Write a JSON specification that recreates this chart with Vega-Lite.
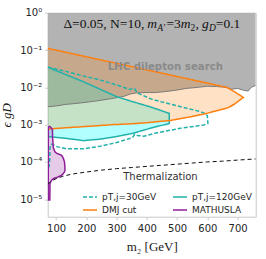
{
  "$schema": "https://vega.github.io/schema/vega-lite/v6.json",
  "width": 208,
  "height": 204,
  "autosize": "none",
  "padding": {"left": 47.7, "top": 12.7, "right": 10.3, "bottom": 42.3},
  "background": "white",
  "config": {
    "view": {"stroke": "#c8c8c8", "strokeWidth": 1},
    "axis": {
      "labelFont": "DejaVu Sans", "labelFontSize": 10, "labelColor": "#262626",
      "titleFont": "Liberation Serif", "titleFontSize": 13, "titleFontWeight": "normal", "titleColor": "#1a1a1a",
      "domain": false, "tickColor": "#c8c8c8", "gridColor": "#ffffff", "gridWidth": 0.8, "labelOverlap": false
    },
    "legend": {
      "orient": "none", "legendX": 34.3, "legendY": 176.3, "columns": 2, "columnPadding": 13, "rowPadding": 0,
      "symbolSize": 196, "symbolStrokeWidth": 1.5, "labelFont": "DejaVu Sans", "labelFontSize": 9,
      "labelColor": "#262626", "labelOffset": 4
    }
  },
  "datasets": {
    "lhc": [
      {"m": 72, "y": 3.02e-3}, {"m": 100, "y": 3.16e-3}, {"m": 130, "y": 3.47e-3}, {"m": 180, "y": 3.80e-3},
      {"m": 230, "y": 4.27e-3}, {"m": 285, "y": 5.01e-3}, {"m": 325, "y": 5.75e-3}, {"m": 345, "y": 6.61e-3},
      {"m": 365, "y": 7.08e-3}, {"m": 400, "y": 7.24e-3}, {"m": 430, "y": 7.24e-3}, {"m": 465, "y": 7.76e-3},
      {"m": 495, "y": 8.32e-3}, {"m": 530, "y": 9.33e-3}, {"m": 570, "y": 1.0e-2}, {"m": 600, "y": 1.07e-2},
      {"m": 630, "y": 1.047e-2}, {"m": 660, "y": 1.0e-2}, {"m": 680, "y": 8.91e-3}, {"m": 700, "y": 9.33e-3},
      {"m": 720, "y": 8.32e-3}, {"m": 735, "y": 7.94e-3}, {"m": 745, "y": 1.0e-2}, {"m": 760, "y": 1.12e-2}
    ],
    "dmj": [
      {"m": 72, "y": 0.1109, "y2": 7.59e-4}, {"m": 124, "y": 0.0897, "y2": 8.13e-4}, {"m": 180, "y": 0.0714, "y2": 8.71e-4},
      {"m": 235, "y": 0.0571, "y2": 9.33e-4}, {"m": 290, "y": 0.0457, "y2": 1.0e-3}, {"m": 345, "y": 0.0366, "y2": 1.047e-3},
      {"m": 400, "y": 0.0292, "y2": 1.122e-3}, {"m": 435, "y": 0.0254, "y2": 1.202e-3}, {"m": 477, "y": 0.0214, "y2": 1.288e-3},
      {"m": 510, "y": 0.0187, "y2": 1.445e-3}, {"m": 545, "y": 0.0162, "y2": 1.622e-3}, {"m": 598, "y": 0.0131, "y2": 1.995e-3},
      {"m": 635, "y": 0.01125, "y2": 2.399e-3}, {"m": 664, "y": 0.0100, "y2": 2.754e-3}, {"m": 675, "y": 8.91e-3, "y2": 3.02e-3},
      {"m": 690, "y": 7.59e-3, "y2": 3.548e-3}, {"m": 719, "y": 5.37e-3, "y2": 5.37e-3}
    ],
    "pt120": [
      {"m": 72, "y": 0.0347, "y2": 4.79e-4}, {"m": 135, "y": 0.0214, "y2": 4.27e-4}, {"m": 190, "y": 0.0141, "y2": 3.72e-4},
      {"m": 245, "y": 8.91e-3, "y2": 4.07e-4}, {"m": 300, "y": 5.62e-3, "y2": 4.79e-4}, {"m": 355, "y": 4.07e-3, "y2": 5.89e-4},
      {"m": 410, "y": 3.02e-3, "y2": 7.94e-4}, {"m": 474, "y": 2.0e-3, "y2": 1.07e-3}
    ],
    "mathusla": [
      {"m": 74, "y": 8.91e-4, "y2": 9.55e-6}, {"m": 79, "y": 8.91e-4, "y2": 9.55e-6}, {"m": 79.6, "y": 8.71e-4, "y2": 2.69e-5},
      {"m": 85, "y": 7.94e-4, "y2": 3.24e-5}, {"m": 87.5, "y": 7.41e-4, "y2": 3.39e-5}, {"m": 88.5, "y": 4.27e-4, "y2": 3.47e-5},
      {"m": 90.5, "y": 2.40e-4, "y2": 3.55e-5}, {"m": 96, "y": 1.86e-4, "y2": 3.72e-5}, {"m": 102, "y": 1.70e-4, "y2": 3.80e-5},
      {"m": 112, "y": 1.58e-4, "y2": 4.17e-5}, {"m": 118, "y": 1.51e-4, "y2": 4.37e-5}, {"m": 123.6, "y": 1.26e-4, "y2": 4.90e-5},
      {"m": 127.5, "y": 1.0e-4, "y2": 5.37e-5}, {"m": 129, "y": 7.08e-5, "y2": 6.03e-5}
    ],
    "outlines": [
      {"s": "pT,j=30GeV", "i": 1, "m": 72, "y": 0.0347}, {"s": "pT,j=30GeV", "i": 2, "m": 135, "y": 0.0263},
      {"s": "pT,j=30GeV", "i": 3, "m": 190, "y": 0.0200}, {"s": "pT,j=30GeV", "i": 4, "m": 245, "y": 0.0158},
      {"s": "pT,j=30GeV", "i": 5, "m": 300, "y": 0.0115}, {"s": "pT,j=30GeV", "i": 6, "m": 345, "y": 8.71e-3},
      {"s": "pT,j=30GeV", "i": 7, "m": 352, "y": 9.33e-3}, {"s": "pT,j=30GeV", "i": 8, "m": 360, "y": 9.12e-3},
      {"s": "pT,j=30GeV", "i": 9, "m": 368, "y": 7.08e-3}, {"s": "pT,j=30GeV", "i": 10, "m": 410, "y": 5.01e-3},
      {"s": "pT,j=30GeV", "i": 11, "m": 443, "y": 4.17e-3}, {"s": "pT,j=30GeV", "i": 12, "m": 487, "y": 3.39e-3},
      {"s": "pT,j=30GeV", "i": 13, "m": 532, "y": 2.75e-3}, {"s": "pT,j=30GeV", "i": 14, "m": 576, "y": 2.24e-3},
      {"s": "pT,j=30GeV", "i": 15, "m": 592, "y": 2.0e-3}, {"s": "pT,j=30GeV", "i": 16, "m": 600, "y": 1.74e-3},
      {"s": "pT,j=30GeV", "i": 17, "m": 602, "y": 1.07e-3}, {"s": "pT,j=30GeV", "i": 18, "m": 588, "y": 9.77e-4},
      {"s": "pT,j=30GeV", "i": 19, "m": 510, "y": 7.94e-4}, {"s": "pT,j=30GeV", "i": 20, "m": 433, "y": 6.03e-4},
      {"s": "pT,j=30GeV", "i": 21, "m": 390, "y": 4.90e-4}, {"s": "pT,j=30GeV", "i": 22, "m": 368, "y": 5.13e-4},
      {"s": "pT,j=30GeV", "i": 23, "m": 360, "y": 5.50e-4}, {"s": "pT,j=30GeV", "i": 24, "m": 352, "y": 4.47e-4},
      {"s": "pT,j=30GeV", "i": 25, "m": 300, "y": 3.31e-4}, {"s": "pT,j=30GeV", "i": 26, "m": 245, "y": 2.63e-4},
      {"s": "pT,j=30GeV", "i": 27, "m": 190, "y": 2.24e-4}, {"s": "pT,j=30GeV", "i": 28, "m": 135, "y": 2.24e-4},
      {"s": "pT,j=30GeV", "i": 29, "m": 102, "y": 2.57e-4}, {"s": "pT,j=30GeV", "i": 30, "m": 86, "y": 3.02e-4},
      {"s": "pT,j=30GeV", "i": 31, "m": 80, "y": 2.82e-4}, {"s": "pT,j=30GeV", "i": 32, "m": 79, "y": 1.26e-4},
      {"s": "pT,j=30GeV", "i": 33, "m": 77, "y": 7.59e-5}, {"s": "pT,j=30GeV", "i": 34, "m": 74, "y": 7.59e-5},

      {"s": "pT,j=120GeV", "i": 1, "m": 72, "y": 0.0347}, {"s": "pT,j=120GeV", "i": 2, "m": 135, "y": 0.0214},
      {"s": "pT,j=120GeV", "i": 3, "m": 190, "y": 0.0141}, {"s": "pT,j=120GeV", "i": 4, "m": 245, "y": 8.91e-3},
      {"s": "pT,j=120GeV", "i": 5, "m": 300, "y": 5.62e-3}, {"s": "pT,j=120GeV", "i": 6, "m": 355, "y": 4.07e-3},
      {"s": "pT,j=120GeV", "i": 7, "m": 410, "y": 3.02e-3}, {"s": "pT,j=120GeV", "i": 8, "m": 474, "y": 2.0e-3},
      {"s": "pT,j=120GeV", "i": 9, "m": 474, "y": 1.07e-3}, {"s": "pT,j=120GeV", "i": 10, "m": 410, "y": 7.94e-4},
      {"s": "pT,j=120GeV", "i": 11, "m": 355, "y": 5.89e-4}, {"s": "pT,j=120GeV", "i": 12, "m": 300, "y": 4.79e-4},
      {"s": "pT,j=120GeV", "i": 13, "m": 245, "y": 4.07e-4}, {"s": "pT,j=120GeV", "i": 14, "m": 190, "y": 3.72e-4},
      {"s": "pT,j=120GeV", "i": 15, "m": 135, "y": 4.27e-4}, {"s": "pT,j=120GeV", "i": 16, "m": 72, "y": 4.79e-4},

      {"s": "DMJ cut", "i": 1, "m": 72, "y": 0.1109}, {"s": "DMJ cut", "i": 2, "m": 124, "y": 0.0897},
      {"s": "DMJ cut", "i": 3, "m": 180, "y": 0.0714}, {"s": "DMJ cut", "i": 4, "m": 235, "y": 0.0571},
      {"s": "DMJ cut", "i": 5, "m": 290, "y": 0.0457}, {"s": "DMJ cut", "i": 6, "m": 345, "y": 0.0366},
      {"s": "DMJ cut", "i": 7, "m": 400, "y": 0.0292}, {"s": "DMJ cut", "i": 8, "m": 435, "y": 0.0254},
      {"s": "DMJ cut", "i": 9, "m": 477, "y": 0.0214}, {"s": "DMJ cut", "i": 10, "m": 510, "y": 0.0187},
      {"s": "DMJ cut", "i": 11, "m": 545, "y": 0.0162}, {"s": "DMJ cut", "i": 12, "m": 598, "y": 0.0131},
      {"s": "DMJ cut", "i": 13, "m": 635, "y": 0.01125}, {"s": "DMJ cut", "i": 14, "m": 664, "y": 0.0100},
      {"s": "DMJ cut", "i": 15, "m": 675, "y": 8.91e-3}, {"s": "DMJ cut", "i": 16, "m": 690, "y": 7.59e-3},
      {"s": "DMJ cut", "i": 17, "m": 719, "y": 5.37e-3}, {"s": "DMJ cut", "i": 18, "m": 690, "y": 3.548e-3},
      {"s": "DMJ cut", "i": 19, "m": 675, "y": 3.02e-3}, {"s": "DMJ cut", "i": 20, "m": 664, "y": 2.754e-3},
      {"s": "DMJ cut", "i": 21, "m": 635, "y": 2.399e-3}, {"s": "DMJ cut", "i": 22, "m": 598, "y": 1.995e-3},
      {"s": "DMJ cut", "i": 23, "m": 545, "y": 1.622e-3}, {"s": "DMJ cut", "i": 24, "m": 510, "y": 1.445e-3},
      {"s": "DMJ cut", "i": 25, "m": 477, "y": 1.288e-3}, {"s": "DMJ cut", "i": 26, "m": 435, "y": 1.202e-3},
      {"s": "DMJ cut", "i": 27, "m": 400, "y": 1.122e-3}, {"s": "DMJ cut", "i": 28, "m": 345, "y": 1.047e-3},
      {"s": "DMJ cut", "i": 29, "m": 290, "y": 1.0e-3}, {"s": "DMJ cut", "i": 30, "m": 235, "y": 9.33e-4},
      {"s": "DMJ cut", "i": 31, "m": 180, "y": 8.71e-4}, {"s": "DMJ cut", "i": 32, "m": 124, "y": 8.13e-4},
      {"s": "DMJ cut", "i": 33, "m": 72, "y": 7.59e-4},

      {"s": "MATHUSLA", "i": 1, "m": 74, "y": 8.91e-4}, {"s": "MATHUSLA", "i": 2, "m": 79, "y": 8.91e-4},
      {"s": "MATHUSLA", "i": 3, "m": 79.6, "y": 8.71e-4}, {"s": "MATHUSLA", "i": 4, "m": 85, "y": 7.94e-4},
      {"s": "MATHUSLA", "i": 5, "m": 87.5, "y": 7.41e-4}, {"s": "MATHUSLA", "i": 6, "m": 88.5, "y": 4.27e-4},
      {"s": "MATHUSLA", "i": 7, "m": 90.5, "y": 2.40e-4}, {"s": "MATHUSLA", "i": 8, "m": 96, "y": 1.86e-4},
      {"s": "MATHUSLA", "i": 9, "m": 102, "y": 1.70e-4}, {"s": "MATHUSLA", "i": 10, "m": 112, "y": 1.58e-4},
      {"s": "MATHUSLA", "i": 11, "m": 118, "y": 1.51e-4}, {"s": "MATHUSLA", "i": 12, "m": 123.6, "y": 1.26e-4},
      {"s": "MATHUSLA", "i": 13, "m": 127.5, "y": 1.0e-4}, {"s": "MATHUSLA", "i": 14, "m": 129, "y": 7.08e-5},
      {"s": "MATHUSLA", "i": 15, "m": 129, "y": 6.03e-5}, {"s": "MATHUSLA", "i": 16, "m": 127.5, "y": 5.37e-5},
      {"s": "MATHUSLA", "i": 17, "m": 123.6, "y": 4.90e-5}, {"s": "MATHUSLA", "i": 18, "m": 118, "y": 4.37e-5},
      {"s": "MATHUSLA", "i": 19, "m": 112, "y": 4.17e-5}, {"s": "MATHUSLA", "i": 20, "m": 102, "y": 3.80e-5},
      {"s": "MATHUSLA", "i": 21, "m": 96, "y": 3.72e-5}, {"s": "MATHUSLA", "i": 22, "m": 90.5, "y": 3.55e-5},
      {"s": "MATHUSLA", "i": 23, "m": 88.5, "y": 3.47e-5}, {"s": "MATHUSLA", "i": 24, "m": 87.5, "y": 3.39e-5},
      {"s": "MATHUSLA", "i": 25, "m": 85, "y": 3.24e-5}, {"s": "MATHUSLA", "i": 26, "m": 79.6, "y": 2.69e-5},
      {"s": "MATHUSLA", "i": 27, "m": 79, "y": 9.55e-6}, {"s": "MATHUSLA", "i": 28, "m": 74, "y": 9.55e-6},
      {"s": "MATHUSLA", "i": 29, "m": 74, "y": 8.91e-4}
    ],
    "thermal": [
      {"m": 72, "y": 2.51e-5}, {"m": 80, "y": 2.88e-5}, {"m": 90, "y": 3.24e-5}, {"m": 100, "y": 3.55e-5},
      {"m": 120, "y": 4.07e-5}, {"m": 150, "y": 4.68e-5}, {"m": 200, "y": 5.37e-5}, {"m": 250, "y": 6.03e-5},
      {"m": 300, "y": 6.61e-5}, {"m": 350, "y": 7.08e-5}, {"m": 400, "y": 7.59e-5}, {"m": 450, "y": 8.13e-5},
      {"m": 500, "y": 8.71e-5}, {"m": 550, "y": 9.33e-5}, {"m": 600, "y": 1.0e-4}, {"m": 650, "y": 1.047e-4},
      {"m": 700, "y": 1.12e-4}, {"m": 760, "y": 1.20e-4}
    ],
    "notes": [
      {"label": "LHC dilepton search", "m": 461, "y": 0.0357},
      {"label": "Thermalization", "m": 445, "y": 3.89e-5}
    ],
    "anchor": [{"m": 124, "y": 0.39}]
  },
  "encoding": {
    "x": {"field": "m", "type": "quantitative", "scale": {"domain": [72, 760], "nice": false, "zero": false},
          "axis": {"values": [100, 200, 300, 400, 500, 600, 700], "title": "m₂ [GeV]", "labelPadding": 4, "tickSize": 3,
                   "grid": true, "titlePadding": 7, "labelFlush": false, "labelOverlap": false}},
    "y": {"field": "y", "type": "quantitative", "scale": {"type": "log", "domain": [3.4e-6, 1], "nice": false},
          "axis": {"values": [1e-5, 1e-4, 1e-3, 1e-2, 1e-1, 1],
                   "labelExpr": "['10⁻⁵','10⁻⁴','10⁻³','10⁻²','10⁻¹','10⁰'][round(log(datum.value)/LN10)+5]",
                   "title": "ϵ gD", "titleFontStyle": "italic", "labelPadding": 3, "tickSize": 3, "titlePadding": 6,
                   "grid": true, "labelFlush": false, "labelOverlap": false}}
  },
  "layer": [
    {"data": {"name": "lhc"}, "mark": {"type": "area", "color": "#a8a8a8", "opacity": 0.88, "clip": true},
     "encoding": {"y2": {"datum": 1}}},
    {"data": {"name": "pt120"}, "mark": {"type": "area", "color": "#00ffff", "fillOpacity": 0.3, "clip": true},
     "encoding": {"y2": {"field": "y2"}}},
    {"data": {"name": "dmj"}, "mark": {"type": "area", "color": "#ff8c1a", "fillOpacity": 0.25, "clip": true},
     "encoding": {"y2": {"field": "y2"}}},
    {"data": {"name": "mathusla"}, "mark": {"type": "area", "color": "#9b30a8", "fillOpacity": 0.25, "clip": true},
     "encoding": {"y2": {"field": "y2"}}},
    {"data": {"name": "lhc"}, "mark": {"type": "line", "color": "#7a7a7a", "strokeWidth": 1, "clip": true}, "encoding": {}},
    {"data": {"name": "outlines"}, "mark": {"type": "line", "strokeWidth": 1.5, "clip": true},
     "encoding": {
       "order": {"field": "i", "type": "quantitative"},
       "color": {"field": "s", "type": "nominal",
                 "scale": {"domain": ["pT,j=30GeV", "DMJ cut", "pT,j=120GeV", "MATHUSLA"],
                           "range": ["#20b2aa", "#ff7f0e", "#20b2aa", "#8e1e9a"]},
                 "legend": {"title": null, "labelExpr": "datum.label == 'DMJ cut' ? '\u00a0\u00a0DMJ cut' : datum.label"}},
       "strokeDash": {"field": "s", "type": "nominal",
                      "scale": {"domain": ["pT,j=30GeV", "DMJ cut", "pT,j=120GeV", "MATHUSLA"],
                                "range": [[4, 2], [1, 0], [1, 0], [1, 0]]},
                      "legend": {"title": null, "labelExpr": "datum.label == 'DMJ cut' ? '\u00a0\u00a0DMJ cut' : datum.label"}}
     }},
    {"data": {"name": "thermal"}, "mark": {"type": "line", "color": "#111111", "strokeWidth": 1, "strokeDash": [4, 3], "clip": true}, "encoding": {}},
    {"data": {"name": "notes"}, "transform": [{"filter": "datum.label == 'LHC dilepton search'"}],
     "mark": {"type": "text", "font": "DejaVu Sans", "fontWeight": "bold", "fontSize": 10.2, "color": "#8a8a8a"},
     "encoding": {"text": {"field": "label"}}},
    {"data": {"name": "notes"}, "transform": [{"filter": "datum.label == 'Thermalization'"}],
     "mark": {"type": "text", "font": "DejaVu Sans", "fontSize": 10, "color": "#333333"},
     "encoding": {"text": {"field": "label"}}},
    {"data": {"name": "anchor"},
     "layer": [
       {"mark": {"type": "text", "text": "Δ=0.05, N=10,", "font": "Liberation Serif", "fontSize": 13.5, "align": "left", "baseline": "alphabetic", "color": "#111111"}},
       {"mark": {"type": "text", "text": "m", "font": "Liberation Serif", "fontStyle": "italic", "fontSize": 13.5, "align": "left", "baseline": "alphabetic", "dx": 83.9, "color": "#111111"}},
       {"mark": {"type": "text", "text": "A′", "font": "Liberation Serif", "fontStyle": "italic", "fontSize": 9.5, "align": "left", "baseline": "alphabetic", "dx": 93.9, "dy": 3.5, "color": "#111111"}},
       {"mark": {"type": "text", "text": "=3", "font": "Liberation Serif", "fontSize": 13.5, "align": "left", "baseline": "alphabetic", "dx": 103, "color": "#111111"}},
       {"mark": {"type": "text", "text": "m", "font": "Liberation Serif", "fontStyle": "italic", "fontSize": 13.5, "align": "left", "baseline": "alphabetic", "dx": 117.4, "color": "#111111"}},
       {"mark": {"type": "text", "text": "2", "font": "Liberation Serif", "fontSize": 9.5, "align": "left", "baseline": "alphabetic", "dx": 127.2, "dy": 3.5, "color": "#111111"}},
       {"mark": {"type": "text", "text": ",", "font": "Liberation Serif", "fontSize": 13.5, "align": "left", "baseline": "alphabetic", "dx": 132, "color": "#111111"}},
       {"mark": {"type": "text", "text": "g", "font": "Liberation Serif", "fontStyle": "italic", "fontSize": 13.5, "align": "left", "baseline": "alphabetic", "dx": 138.7, "color": "#111111"}},
       {"mark": {"type": "text", "text": "D", "font": "Liberation Serif", "fontStyle": "italic", "fontSize": 9.5, "align": "left", "baseline": "alphabetic", "dx": 145.5, "dy": 3.5, "color": "#111111"}},
       {"mark": {"type": "text", "text": "=0.1", "font": "Liberation Serif", "fontSize": 13.5, "align": "left", "baseline": "alphabetic", "dx": 152.4, "color": "#111111"}}
     ]}
  ]
}
